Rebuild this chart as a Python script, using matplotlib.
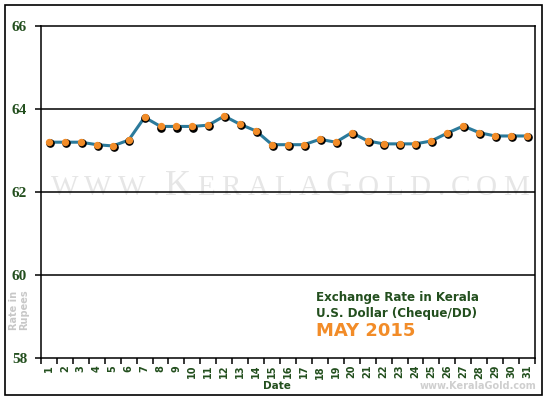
import matplotlib
matplotlib.use("Agg")
import matplotlib.pyplot as plt
import matplotlib.transforms as mtransforms
from matplotlib.patches import Rectangle
from matplotlib.offsetbox import TextArea, HPacker, AnnotationBbox

# data (May 2015, INR per USD, cheque/DD)
days = list(range(1, 32))
rates = [63.20, 63.20, 63.20, 63.14, 63.11, 63.25, 63.80, 63.58, 63.58, 63.58,
         63.61, 63.83, 63.63, 63.47, 63.14, 63.14, 63.14, 63.27, 63.20, 63.43,
         63.23, 63.16, 63.16, 63.16, 63.23, 63.42, 63.59, 63.43, 63.35, 63.35,
         63.35]
yticks = [58, 60, 62, 64, 66]

green = "#234f1e"
orange = "#f28c28"
line_col = "#2b7a9b"


def main():
    fig = plt.figure(figsize=(5.5, 4), dpi=100)
    ax = fig.add_axes([41/550, 42/400, 494/550, 332/400])

    # outer frame
    fig.patches.append(Rectangle((5/550, 5/400), 537/550, 390/400, transform=fig.transFigure,
                                 fill=False, edgecolor="black", linewidth=1.2))

    # faint watermark in spaced small caps
    word = "WWW.KERALAGOLD.COM"
    boxes = []
    for i, ch in enumerate(word):
        size = 26 if i in (4, 10) else 21
        boxes.append(TextArea(ch, textprops=dict(fontsize=size, family="Liberation Serif",
                                                 color="#e6e6e6")))
    pack = HPacker(children=boxes, align="baseline", pad=0, sep=4.5)
    ab = AnnotationBbox(pack, (290/550, 1 - 186/400), xycoords="figure fraction",
                        frameon=False, zorder=0)
    fig.add_artist(ab)

    x = [d - 0.5 for d in days]
    shadow = mtransforms.offset_copy(ax.transData, fig=fig, x=0.6, y=-0.8, units="points")
    ax.plot(x, rates, color=line_col, linewidth=2.2, zorder=3)
    ax.plot(x, rates, "o", color="black", markersize=5.2, transform=shadow, zorder=4)
    ax.plot(x, rates, "o", color=orange, markersize=5.3, markeredgewidth=0, zorder=5)

    ax.set_xlim(0, 31)
    ax.set_ylim(58, 66)
    ax.set_yticks(yticks)
    ax.set_yticklabels([str(v) for v in yticks], family="Liberation Serif",
                       fontweight="bold", fontsize=11, color=green)
    for v in yticks[1:-1]:
        ax.axhline(v, color="black", linewidth=1.1, zorder=2)

    ax.set_xticks(range(0, 32))
    ax.set_xticklabels([])
    ax.set_xticks(x, minor=True)
    ax.set_xticklabels([str(d) for d in days], minor=True, rotation=90,
                       fontsize=7, fontweight="bold", color=green)
    ax.tick_params(axis="x", which="minor", length=0, pad=5)
    ax.tick_params(axis="x", which="major", length=4, width=1.1, direction="out")
    ax.tick_params(axis="y", length=4, width=1.1, pad=6)
    for s in ax.spines.values():
        s.set_linewidth(1.1)
    ax.patch.set_alpha(0)

    fig.text(277/550, 1 - 386/400, "Date", ha="center", va="center",
             fontsize=7.5, fontweight="bold", color=green)
    fig.text(19/550, 1 - 310/400, "Rate in\nRupees", ha="center", va="center",
             rotation=90, fontsize=7, fontweight="bold", color="#c8c8c8", linespacing=1.1)
    fig.text(478/550, 1 - 386/400, "www.KeralaGold.com", ha="center", va="center",
             fontsize=7, fontweight="bold", color="#cfcfcf")

    fig.text(316/550, 1 - 298/400, "Exchange Rate in Kerala", ha="left", va="center",
             fontsize=8.6, fontweight="bold", color=green)
    fig.text(316/550, 1 - 314/400, "U.S. Dollar (Cheque/DD)", ha="left", va="center",
             fontsize=8.6, fontweight="bold", color=green)
    fig.text(316/550, 1 - 331/400, "MAY 2015", ha="left", va="center",
             fontsize=13, fontweight="bold", color=orange)

    fig.savefig("out.png", dpi=100)


if __name__ == "__main__":
    main()
